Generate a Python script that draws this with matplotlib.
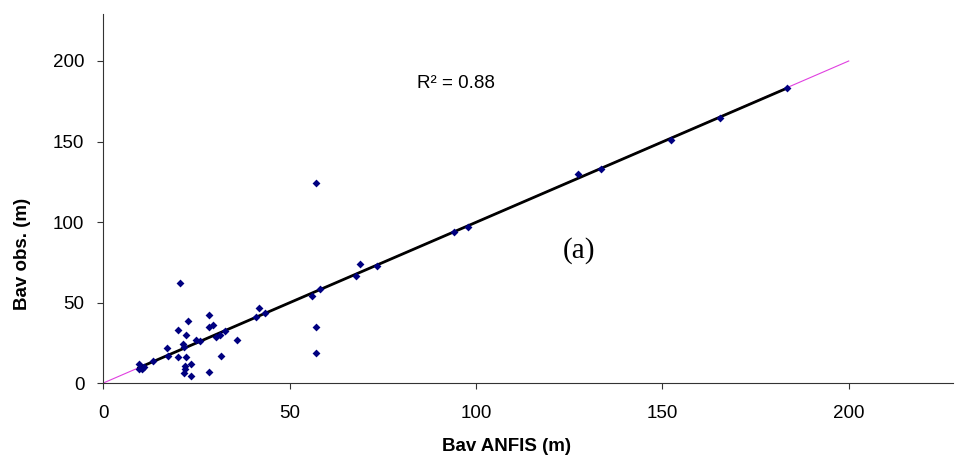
import numpy as np
import matplotlib
matplotlib.use("Agg")
import matplotlib.pyplot as plt

# values
bav_anfis = [9.5, 9.5, 11, 10.5, 13.5, 17, 17.5, 20.2, 20.2, 20.6, 21.3, 21.6, 22, 22,
             21.6, 22.2, 22.2, 22.8, 23.5, 23.5, 25, 26, 28.5, 28.5, 29.5, 28.5, 30.4,
             31.3, 31.5, 32.7, 35.8, 41.1, 41.9, 43.4, 55.9, 57, 57, 57, 58.3, 67.7,
             69, 73.4, 94.2, 97.8, 127.3, 133.5, 152.2, 165.6, 183.5]
bav_obs = [12, 9, 10, 8.5, 13.9, 22, 16.8, 32.9, 16.3, 62.3, 24.2, 22.5, 8.5, 10.6,
           6.4, 16.3, 29.8, 38.7, 11.6, 4.5, 26.7, 26, 42.4, 34.6, 36, 6.6, 28.8,
           29.8, 16.8, 32.5, 26.7, 41.2, 46.4, 43.7, 54.2, 124.4, 35, 18.4, 58.2, 66.6,
           73.7, 72.7, 94, 96.7, 129.8, 132.9, 150.7, 164.8, 183]
r2_text = "R² = 0.88"
panel = "(a)"

x = np.array(bav_anfis)
y = np.array(bav_obs)

plt.rcParams['font.family'] = ['Liberation Sans', 'DejaVu Sans']

fig = plt.figure(figsize=(9.55, 4.61), dpi=100)
ax = fig.add_axes([0.108, 0.169, 0.89, 0.80])

# 1:1 line
ax.plot([0, 200], [0, 200], color='#e040e0', lw=0.8, zorder=1)

# linear trendline over the data range
a, b = np.polyfit(x, y, 1)
xs = np.array([x.min(), x.max()])
ax.plot(xs, a * xs + b, color='black', lw=2, zorder=2)

ax.scatter(x, y, marker='D', s=16, color='#000080', zorder=3, linewidths=0)

ax.text(84.3, 186.3, r2_text, fontsize=13.5, va='center', ha='left')
ax.text(127.7, 82.6, panel, fontsize=21, family='Liberation Serif', va='center', ha='center')

ax.set_xlim(0, 228)
ax.set_ylim(0, 229)
ax.set_xticks([0, 50, 100, 150, 200])
ax.set_yticks([0, 50, 100, 150, 200])
ax.tick_params(labelsize=13.5, length=4.5, width=0.8, color='#333333')
ax.tick_params(axis='x', pad=11)
ax.tick_params(axis='y', pad=9)
for s in ['top', 'right']:
    ax.spines[s].set_visible(False)
for s in ['left', 'bottom']:
    ax.spines[s].set_color('#333333')
    ax.spines[s].set_linewidth(0.8)

ax.set_xlabel("Bav ANFIS (m)", fontsize=13.5, fontweight='bold', va='center')
ax.set_ylabel("Bav obs. (m)", fontsize=13.5, fontweight='bold', va='center')
ax.xaxis.set_label_coords(0.474, -0.173)
ax.yaxis.set_label_coords(-0.095, 0.35)

fig.savefig("out.png", dpi=100)
